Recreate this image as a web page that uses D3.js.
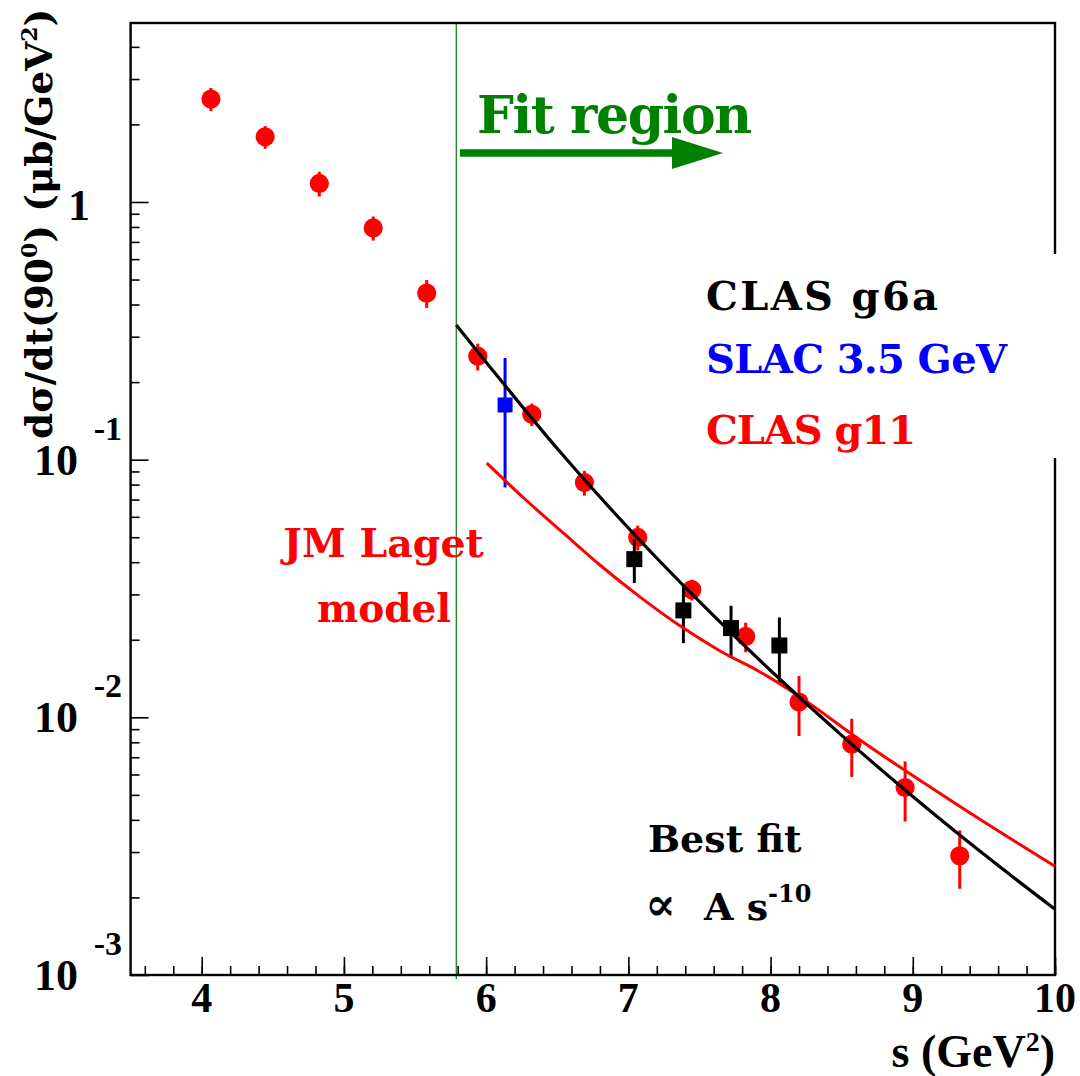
<!DOCTYPE html>
<html>
<head>
<meta charset="utf-8">
<script src="https://cdn.jsdelivr.net/npm/d3@7"></script>
<style>
  html, body { margin: 0; padding: 0; background: #fff; }
  svg { display: block; }
  .num { font-family: "Liberation Serif", serif; font-weight: bold; }
  .lbl { font-family: "DejaVu Serif", serif; font-weight: bold; }
</style>
</head>
<body>
<svg id="chart" width="1080" height="1076"></svg>
<script>
// CLAS g11 cross sections at 90 degrees (s in GeV^2, dsigma/dt in ub/GeV^2)
const sG11    = [4.065, 4.446, 4.827, 5.206, 5.582, 5.941, 6.321, 6.691, 7.066, 7.446, 7.825, 8.200, 8.571, 8.946, 9.330];
const dsdtG11 = [2.51, 1.79, 1.18, 0.793, 0.443, 0.252, 0.150, 0.0815, 0.0499, 0.0313, 0.0206, 0.01146, 0.00787, 0.00534, 0.00290];
const errG11  = [0.26, 0.18, 0.13, 0.085, 0.055, 0.030, 0.015, 0.009, 0.0055, 0.0029, 0.0027, 0.0030, 0.0020, 0.0014, 0.00074];

// CLAS g6a
const sG6a    = [7.042, 7.387, 7.722, 8.062];
const dsdtG6a = [0.0411, 0.0260, 0.0222, 0.0190];
const errG6a  = [0.0079, 0.0066, 0.0049, 0.0054];

// SLAC 3.5 GeV
const sSlac    = [6.133];
const dsdtSlac = [0.163];
const errSlac  = [0.085];

// Best fit curve (A s^-10 scaling) over the fit region
const fitS    = [5.79, 6.0, 6.5, 7.0, 7.5, 8.0, 8.5, 9.0, 9.5, 10.0];
const fitVals = [0.333, 0.239, 0.1104, 0.0543, 0.0281, 0.0152, 0.00851, 0.00493, 0.00294, 0.00180];

// JM Laget model curve
const lagetS    = [6.004, 6.274, 6.548, 6.798, 7.079, 7.381, 7.645, 7.926, 8.207, 8.629, 9.332, 10.0];
const lagetVals = [0.0970, 0.0702, 0.0516, 0.0391, 0.0294, 0.0223, 0.0181, 0.0150, 0.0120, 0.00817, 0.00451, 0.00264];

const fitRegionStart = 5.79;

// Axis ticks
const xTickValues    = [4, 5, 6, 7, 8, 9, 10];
const xMinorTicks    = d3.range(3.6, 10.001, 0.2).map(v => +v.toFixed(1));
const yTickValues    = [1, 0.1, 0.01, 0.001];
const yTickExponents = ["", "-1", "-2", "-3"];
const yMinorTicks    = [];
[0.001, 0.01, 0.1, 1].forEach(d => { for (let k = 2; k <= 9; k++) { const v = d * k; if (v < 4.95) yMinorTicks.push(v); } });

const svg = d3.select("#chart");

const x = d3.scaleLinear().domain([3.5, 10]).range([130.6, 1055]);
const y = d3.scaleLog().domain([0.001, 4.95]).range([975, 23]);

const GREEN = "#008000", RED = "#ff0000", BLUE = "#0000ff";

// Fit-region boundary
svg.append("line")
  .attr("x1", x(fitRegionStart)).attr("x2", x(fitRegionStart))
  .attr("y1", y(4.95)).attr("y2", 979)
  .attr("stroke", GREEN).attr("stroke-width", 1.2);

// Frame
svg.append("rect")
  .attr("x", x(3.5)).attr("y", y(4.95))
  .attr("width", x(10) - x(3.5)).attr("height", y(0.001) - y(4.95))
  .attr("fill", "none").attr("stroke", "#000").attr("stroke-width", 2.4);

// Axes: ticks drawn inward
const gx = svg.append("g").attr("transform", `translate(0,${y(0.001)})`);
gx.call(d3.axisBottom(x).tickValues(xTickValues).tickSize(-18).tickFormat(""));
gx.append("g").call(d3.axisBottom(x).tickValues(xMinorTicks).tickSize(-9).tickFormat(""));
gx.selectAll(".domain").remove();
gx.selectAll("line").attr("stroke", "#000").attr("stroke-width", 1.6);

const gy = svg.append("g").attr("transform", `translate(${x(3.5)},0)`);
gy.call(d3.axisLeft(y).tickValues(yTickValues).tickSize(-18).tickFormat(""));
gy.append("g").call(d3.axisLeft(y).tickValues(yMinorTicks).tickSize(-9).tickFormat(""));
gy.selectAll(".domain").remove();
gy.selectAll("line").attr("stroke", "#000").attr("stroke-width", 1.6);

// X tick labels
svg.append("g").selectAll("text").data(xTickValues).join("text")
  .attr("class", "num")
  .attr("x", d => x(d)).attr("y", 1012)
  .attr("text-anchor", "middle").attr("font-size", 42)
  .text(d => d);

// Y tick labels (10 with exponent placed above-right)
const yl = svg.append("g");
yTickValues.forEach((v, i) => {
  const ty = y(v);
  if (yTickExponents[i] === "") {
    yl.append("text").attr("class", "num")
      .attr("x", 90).attr("y", ty + 18).attr("text-anchor", "end")
      .attr("font-size", 44).text(v);
  } else {
    yl.append("text").attr("class", "num")
      .attr("x", 78).attr("y", ty + 15).attr("text-anchor", "end")
      .attr("font-size", 44).text("10");
    yl.append("text").attr("class", "num")
      .attr("x", 122).attr("y", ty - 20).attr("text-anchor", "end")
      .attr("font-size", 34).text(yTickExponents[i]);
  }
});

// Axis titles
const xt = svg.append("text").attr("class", "num")
  .attr("x", 1055).attr("y", 1067).attr("text-anchor", "end").attr("font-size", 46);
xt.append("tspan").text("s (GeV");
xt.append("tspan").attr("font-size", 28).attr("dy", -16).text("2");
xt.append("tspan").attr("dy", 16).text(")");

const yt = svg.append("text").attr("class", "lbl")
  .attr("transform", "translate(52,439) rotate(-90)")
  .attr("font-size", 37.5);
yt.append("tspan").text("dσ/dt(90");
yt.append("tspan").attr("font-size", 22).attr("dy", -15).text("0");
yt.append("tspan").attr("dy", 15).text(") (μb/GeV");
yt.append("tspan").attr("font-size", 22).attr("dy", -15).text("2");
yt.append("tspan").attr("dy", 15).text(")");

// Legend block (white fill covers the right frame edge)
svg.append("rect").attr("x", 690).attr("y", 254).attr("width", 380).attr("height", 204).attr("fill", "#fff");
const legend = [
  { text: "CLAS g6a", color: "#000", y: 310, w: 232 },
  { text: "SLAC 3.5 GeV", color: BLUE, y: 373, w: 301 },
  { text: "CLAS g11", color: RED, y: 444, w: 210 }
];
svg.append("g").selectAll("text").data(legend).join("text")
  .attr("class", "lbl").attr("x", 706).attr("y", d => d.y)
  .attr("font-size", 40).attr("fill", d => d.color)
  .attr("textLength", d => d.w).attr("lengthAdjust", "spacing")
  .text(d => d.text);

// Data: error bars + markers
function errorBars(g, s, v, e, color) {
  g.selectAll(null).data(s).join("line")
    .attr("x1", (d) => x(d)).attr("x2", (d) => x(d))
    .attr("y1", (d, i) => y(v[i] + e[i])).attr("y2", (d, i) => y(Math.max(v[i] - e[i], 1e-4)))
    .attr("stroke", color).attr("stroke-width", 3);
}

const gRed = svg.append("g");
errorBars(gRed, sG11, dsdtG11, errG11, RED);
gRed.selectAll("circle").data(sG11).join("circle")
  .attr("cx", d => x(d)).attr("cy", (d, i) => y(dsdtG11[i])).attr("r", 9.6).attr("fill", RED);

const gBlue = svg.append("g");
errorBars(gBlue, sSlac, dsdtSlac, errSlac, BLUE);
gBlue.selectAll("rect").data(sSlac).join("rect")
  .attr("x", d => x(d) - 7.5).attr("y", (d, i) => y(dsdtSlac[i]) - 7.5)
  .attr("width", 15).attr("height", 15).attr("fill", BLUE);

const gBlack = svg.append("g");
errorBars(gBlack, sG6a, dsdtG6a, errG6a, "#000");
gBlack.selectAll("rect").data(sG6a).join("rect")
  .attr("x", d => x(d) - 8).attr("y", (d, i) => y(dsdtG6a[i]) - 8)
  .attr("width", 16).attr("height", 16).attr("fill", "#000");

// Curves
const line = d3.line().x(d => x(d[0])).y(d => y(d[1])).curve(d3.curveMonotoneX);
svg.append("path").datum(d3.zip(lagetS, lagetVals))
  .attr("d", line).attr("fill", "none").attr("stroke", RED).attr("stroke-width", 3);
svg.append("path").datum(d3.zip(fitS, fitVals))
  .attr("d", line).attr("fill", "none").attr("stroke", "#000").attr("stroke-width", 3.2);

// Fit-region annotation
svg.append("text").attr("class", "lbl").attr("x", 477).attr("y", 133)
  .attr("font-size", 52).attr("fill", GREEN)
  .attr("textLength", 275).attr("lengthAdjust", "spacing").text("Fit region");
svg.append("line").attr("x1", 460).attr("x2", 676).attr("y1", 153).attr("y2", 153)
  .attr("stroke", GREEN).attr("stroke-width", 7.5);
svg.append("path").attr("d", "M672,137 L723,153 L672,169 Z").attr("fill", GREEN);

// Model label
svg.append("text").attr("class", "lbl").attr("x", 383.5).attr("y", 557)
  .attr("text-anchor", "middle").attr("font-size", 39.5).attr("fill", RED).text("JM Laget");
svg.append("text").attr("class", "lbl").attr("x", 384).attr("y", 622)
  .attr("text-anchor", "middle").attr("font-size", 39).attr("fill", RED).text("model");

// Fit label
svg.append("text").attr("class", "lbl").attr("x", 648).attr("y", 852)
  .attr("font-size", 38).text("Best fit");
const fl = svg.append("text").attr("class", "lbl").attr("x", 645).attr("y", 920).attr("font-size", 38);
fl.append("tspan").attr("font-size", 46).text("∝");
fl.append("tspan").attr("x", 704).text("A s");
fl.append("tspan").attr("font-size", 24).attr("dy", -18).text("-10");
</script>
</body>
</html>
